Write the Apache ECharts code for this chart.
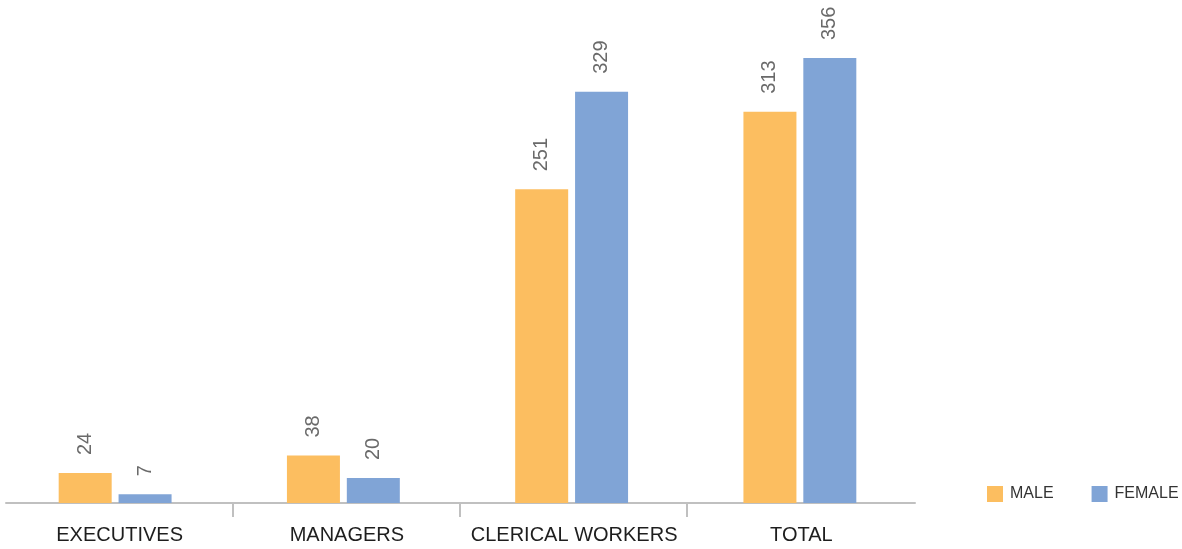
<!DOCTYPE html>
<html>
<head>
<meta charset="utf-8">
<style>
  html, body { margin: 0; padding: 0; background: #ffffff; }
  #chart { width: 1182px; height: 549px; }
</style>
<script src="https://cdn.jsdelivr.net/npm/echarts@6/dist/echarts.min.js"></script>
</head>
<body>
<div id="chart"></div>
<script>
// Staff by job category and sex
const categories = ['EXECUTIVES', 'MANAGERS', 'CLERICAL WORKERS', 'TOTAL'];
const maleValues = [24, 38, 251, 313];
const femaleValues = [7, 20, 329, 356];
const seriesNames = ['MALE', 'FEMALE'];

const FONT = '"Liberation Sans", Arial, sans-serif';
const COLORS = ['#FCBE60', '#80A4D6'];
const AXIS_GREY = '#c0c0c0';

const valueLabel = {
  show: true,
  position: 'top',
  rotate: 90,
  align: 'left',
  verticalAlign: 'middle',
  distance: 18,
  color: '#6a6a6a',
  fontFamily: FONT,
  fontSize: 20
};

// separators sit only between neighbouring categories
const separators = categories.slice(1);

const chart = echarts.init(document.getElementById('chart'), null, { renderer: 'canvas' });
chart.setOption({
  animation: false,
  color: COLORS,
  legend: {
    data: seriesNames,
    left: 987,
    top: 486,
    padding: 0,
    width: 195,
    itemWidth: 16,
    itemHeight: 16,
    itemGap: 38,
    icon: 'rect',
    textStyle: { fontFamily: FONT, fontSize: 16, color: '#333333', padding: [0, 0, 0, 2] }
  },
  // grid 0: bars, grid 1: baseline + category names, grid 2: separator ticks
  grid: [
    { left: 1, right: 268, top: 3, bottom: 46, containLabel: false },
    { left: 6, right: 267, top: 3, bottom: 46, containLabel: false },
    { left: 233, right: 495, top: 3, bottom: 46, containLabel: false }
  ],
  xAxis: [
    {
      type: 'category',
      gridIndex: 0,
      data: categories,
      show: false
    },
    {
      type: 'category',
      gridIndex: 1,
      data: categories,
      axisLine: { lineStyle: { color: AXIS_GREY, width: 2 } },
      axisTick: { show: false },
      axisLabel: { interval: 0, color: '#1e1e1e', fontFamily: FONT, fontSize: 20, margin: 22 }
    },
    {
      type: 'category',
      gridIndex: 2,
      data: separators,
      boundaryGap: false,
      axisLine: { show: false },
      axisTick: { show: true, interval: 0, length: 14, lineStyle: { color: AXIS_GREY, width: 2 } },
      axisLabel: { show: false }
    }
  ],
  yAxis: [
    { type: 'value', gridIndex: 0, min: 0, max: 400, show: false, splitLine: { show: false } },
    { type: 'value', gridIndex: 1, min: 0, max: 400, show: false, splitLine: { show: false } },
    { type: 'value', gridIndex: 2, min: 0, max: 400, show: false, splitLine: { show: false } }
  ],
  series: [
    {
      name: seriesNames[0],
      type: 'bar',
      xAxisIndex: 0,
      yAxisIndex: 0,
      data: maleValues,
      barWidth: 53,
      barGap: '13%',
      label: valueLabel
    },
    {
      name: seriesNames[1],
      type: 'bar',
      xAxisIndex: 0,
      yAxisIndex: 0,
      data: femaleValues,
      barWidth: 53,
      barGap: '13%',
      label: valueLabel
    }
  ]
});
</script>
</body>
</html>
